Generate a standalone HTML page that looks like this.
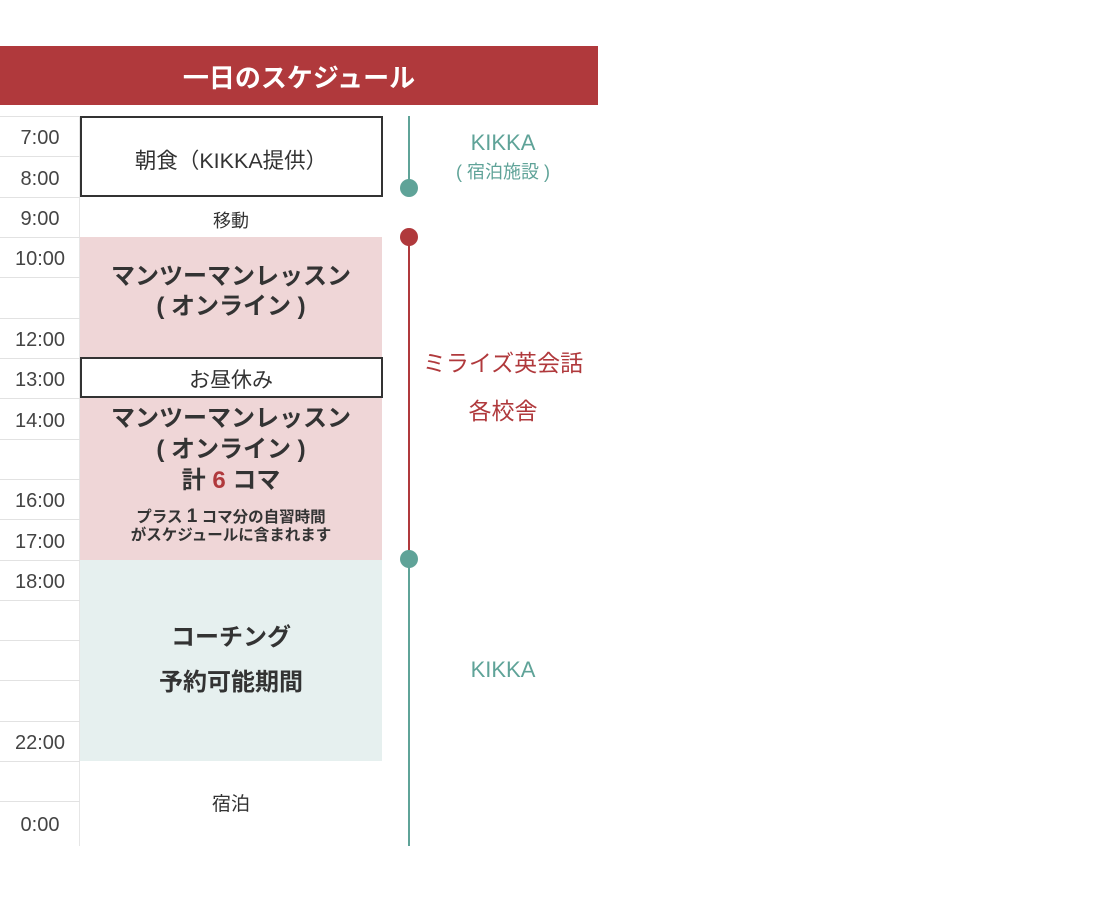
<!DOCTYPE html>
<html><head><meta charset="utf-8"><style>
*{margin:0;padding:0;box-sizing:border-box}
body{width:1100px;height:900px;background:#fff;position:relative;overflow:hidden;font-family:"Liberation Sans","Noto Sans CJK JP",sans-serif;color:#333}
.a{position:absolute}
.hdr{left:0;top:46px;width:598px;height:59px;background:#b0393c;color:#fff;font-size:26px;font-weight:bold;text-align:center;line-height:64px}
.t{position:absolute;left:0;width:80px;text-align:center;font-size:20px;color:#444}
.hl{position:absolute;left:0;width:80px;height:1px;background:#e2e2e2}
.c{position:absolute;text-align:center;left:80px;width:302px}
</style></head><body>
<div class="a hdr">一日のスケジュール</div>
<div class="a" style="left:79px;top:116px;width:1px;height:730px;background:#e6e6e6"></div>
<div class="hl" style="top:116px"></div><div class="hl" style="top:156px"></div><div class="hl" style="top:197px"></div><div class="hl" style="top:237px"></div><div class="hl" style="top:277px"></div><div class="hl" style="top:318px"></div><div class="hl" style="top:358px"></div><div class="hl" style="top:398px"></div><div class="hl" style="top:439px"></div><div class="hl" style="top:479px"></div><div class="hl" style="top:519px"></div><div class="hl" style="top:560px"></div><div class="hl" style="top:600px"></div><div class="hl" style="top:640px"></div><div class="hl" style="top:680px"></div><div class="hl" style="top:721px"></div><div class="hl" style="top:761px"></div><div class="hl" style="top:801px"></div>
<div class="t" style="top:127px">7:00</div>
<div class="t" style="top:168px">8:00</div>
<div class="t" style="top:208px">9:00</div>
<div class="t" style="top:248px">10:00</div>
<div class="t" style="top:329px">12:00</div>
<div class="t" style="top:369px">13:00</div>
<div class="t" style="top:410px">14:00</div>
<div class="t" style="top:490px">16:00</div>
<div class="t" style="top:531px">17:00</div>
<div class="t" style="top:571px">18:00</div>
<div class="t" style="top:732px">22:00</div>
<div class="t" style="top:814px">0:00</div>

<div class="a" style="left:80px;top:116px;width:303px;height:81px;border:2px solid #333"></div>
<div class="c" style="top:144px;font-size:21.5px">朝食（KIKKA提供）</div>
<div class="c" style="top:207px;font-size:18px">移動</div>
<div class="a" style="left:80px;top:237px;width:302px;height:323px;background:#efd6d7"></div>
<div class="c" style="top:262px;font-size:24px;font-weight:bold;line-height:30px">マンツーマンレッスン<br>( オンライン )</div>
<div class="a" style="left:80px;top:357px;width:303px;height:41px;border:2px solid #333;background:#fff"></div>
<div class="c" style="top:364px;font-size:21px">お昼休み</div>
<div class="c" style="top:403px;font-size:24px;font-weight:bold;line-height:31px">マンツーマンレッスン<br>( オンライン )<br>計 <span style="color:#b0393c">6</span> コマ</div>
<div class="c" style="top:508px;font-size:15.5px;font-weight:bold;line-height:18px">プラス <span style="font-size:19px">1</span> コマ分の自習時間<br>がスケジュールに含まれます</div>
<div class="a" style="left:80px;top:560px;width:302px;height:201px;background:#e6f0ef"></div>
<div class="c" style="top:615px;font-size:24px;font-weight:bold;line-height:45px">コーチング<br>予約可能期間</div>
<div class="c" style="top:789px;font-size:19px">宿泊</div>

<div class="a" style="left:408px;top:116px;width:2px;height:71px;background:#5fa398"></div>
<div class="a" style="left:400px;top:179px;width:18px;height:18px;border-radius:50%;background:#5fa398"></div>
<div class="a" style="left:400px;top:228px;width:18px;height:18px;border-radius:50%;background:#b0393c"></div>
<div class="a" style="left:408px;top:237px;width:2px;height:322px;background:#b0393c"></div>
<div class="a" style="left:400px;top:550px;width:18px;height:18px;border-radius:50%;background:#5fa398"></div>
<div class="a" style="left:408px;top:559px;width:2px;height:287px;background:#5fa398"></div>

<div class="a" style="left:420px;width:166px;text-align:center;top:129px;color:#5fa398;font-size:22px;line-height:28px">KIKKA<br><span style="font-size:18px">( 宿泊施設 )</span></div>
<div class="a" style="left:420px;width:166px;text-align:center;top:339px;color:#b0393c;font-size:23px;line-height:48px">ミライズ英会話<br>各校舎</div>
<div class="a" style="left:420px;width:166px;text-align:center;top:657px;color:#5fa398;font-size:22px">KIKKA</div>
</body></html>
